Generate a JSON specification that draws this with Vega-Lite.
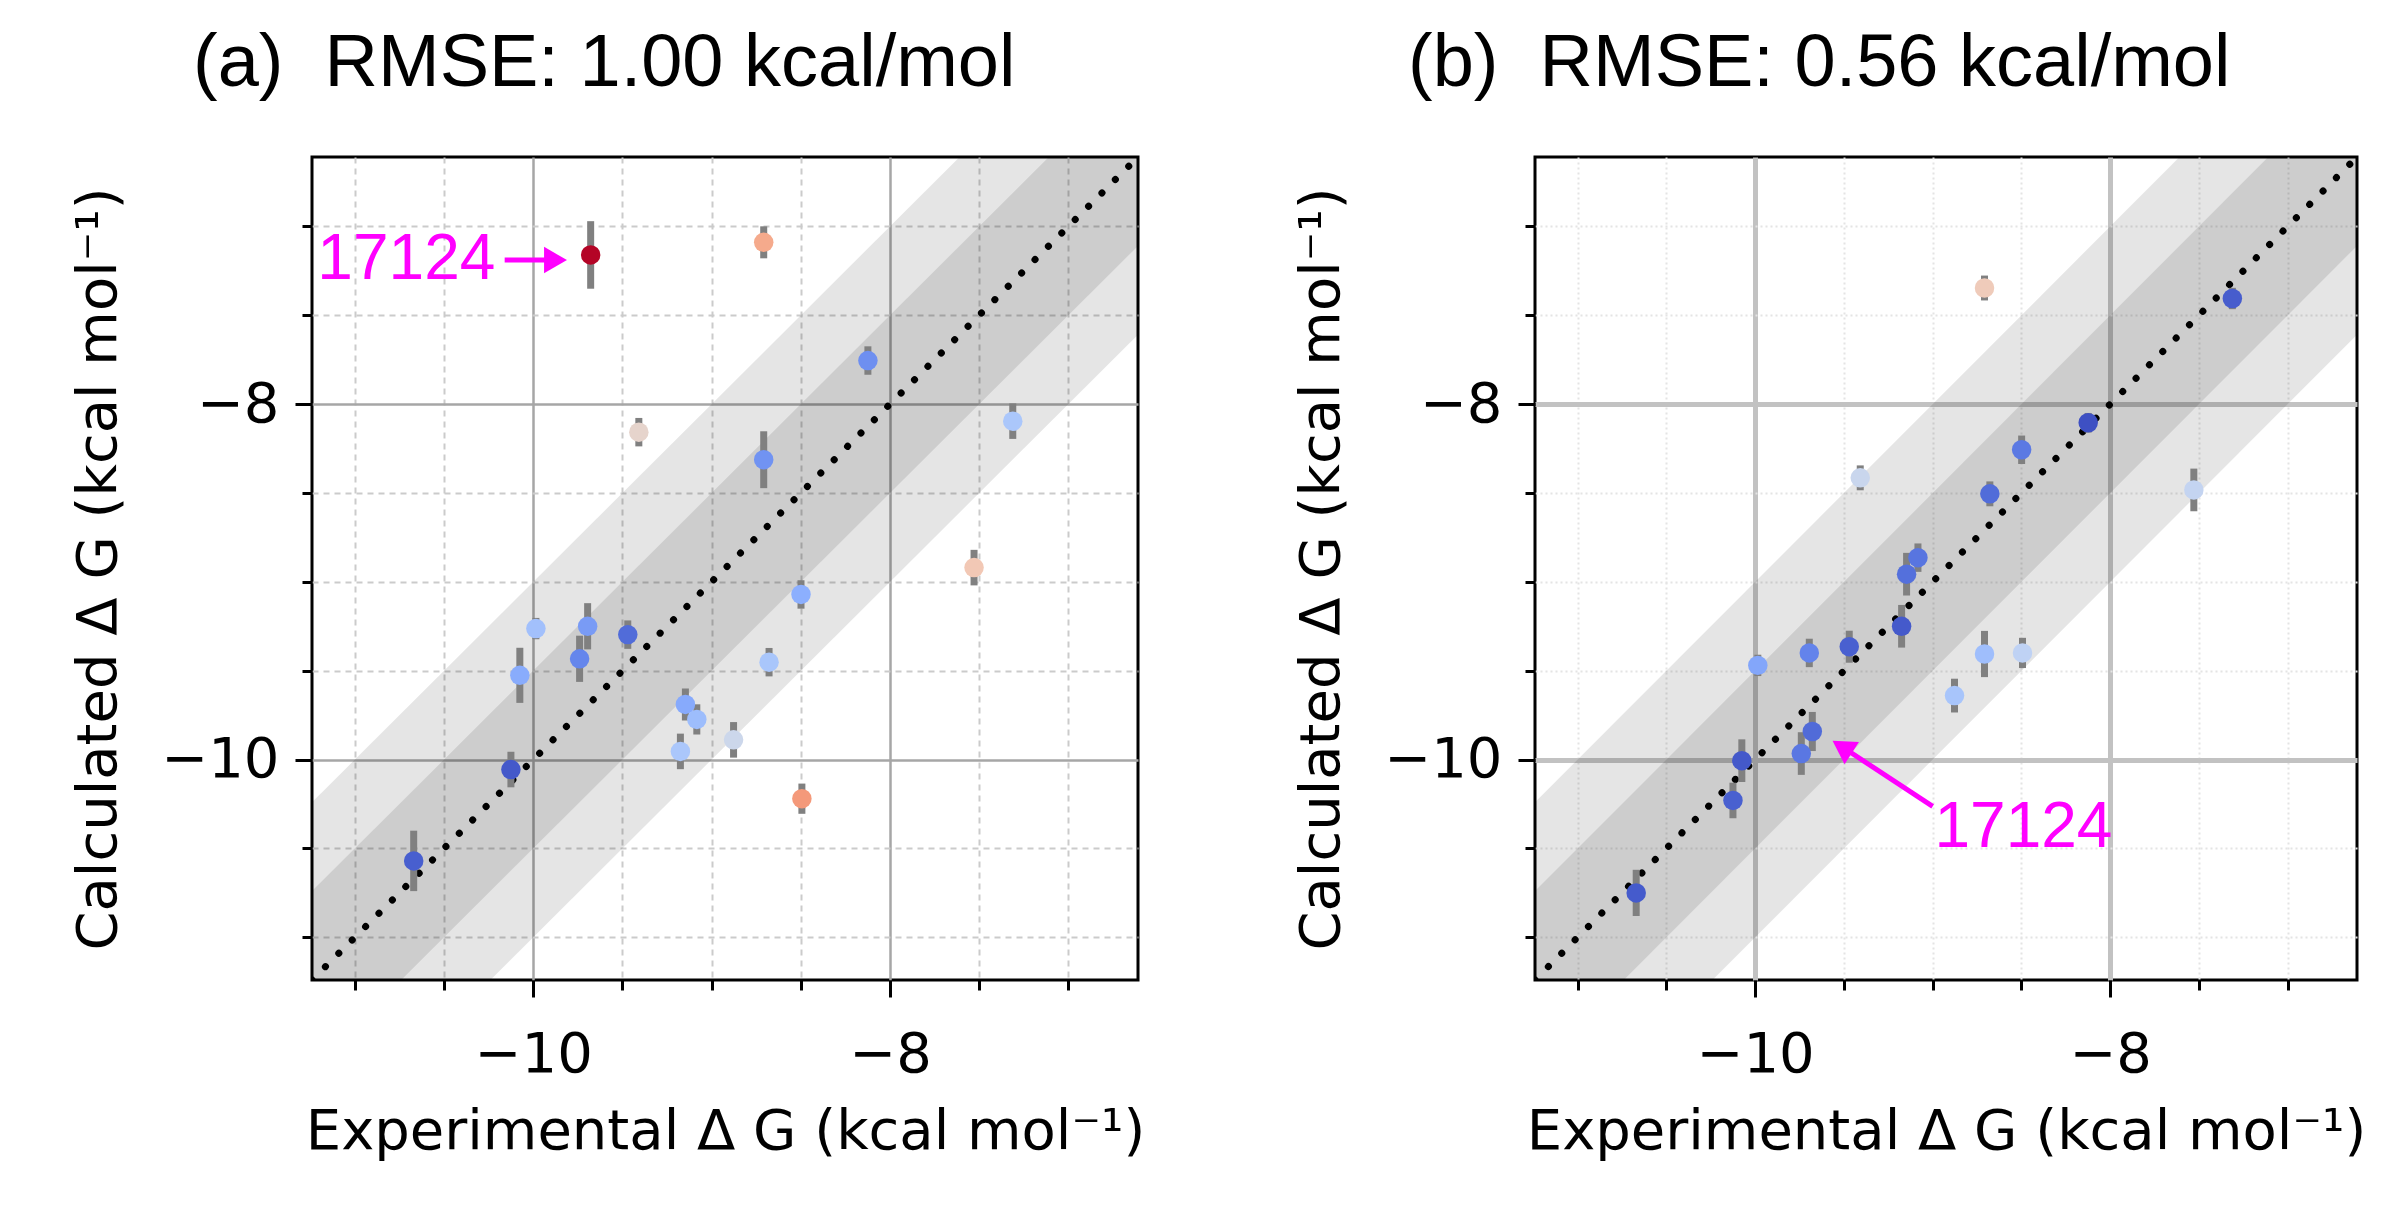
{
  "$schema": "https://vega.github.io/schema/vega-lite/v6.json",
  "description": "Calculated vs experimental binding free energies, two FEP setups",
  "background": "white",
  "padding": {"left": 69, "top": 25, "right": 10, "bottom": 10},
  "spacing": 145,
  "datasets": {
    "pts": [
      {"exp": -10.67, "calcA": -10.57, "sdA": 0.17, "devA": 0.1, "calcB": -10.75, "sdB": 0.13, "devB": 0.08},
      {"exp": -10.125, "calcA": -10.056, "sdA": 0.1, "devA": 0.07, "calcB": -10.23, "sdB": 0.1, "devB": 0.105},
      {"exp": -10.075, "calcA": -9.526, "sdA": 0.155, "devA": 0.55, "calcB": -10.006, "sdB": 0.12, "devB": 0.07},
      {"exp": -9.985, "calcA": -9.263, "sdA": 0.06, "devA": 0.72, "calcB": -9.47, "sdB": 0.06, "devB": 0.515},
      {"exp": -9.74, "calcA": -9.433, "sdA": 0.13, "devA": 0.31, "calcB": -9.966, "sdB": 0.12, "devB": 0.23},
      {"exp": -9.695, "calcA": -9.25, "sdA": 0.13, "devA": 0.445, "calcB": -9.4, "sdB": 0.08, "devB": 0.295},
      {"exp": -9.678, "calcA": -7.161, "sdA": 0.19, "devA": 2.52, "calcB": -9.842, "sdB": 0.11, "devB": 0.164},
      {"exp": -9.47, "calcA": -9.297, "sdA": 0.08, "devA": 0.17, "calcB": -9.365, "sdB": 0.09, "devB": 0.105},
      {"exp": -9.408, "calcA": -8.158, "sdA": 0.08, "devA": 1.25, "calcB": -8.415, "sdB": 0.07, "devB": 0.99},
      {"exp": -9.175, "calcA": -9.954, "sdA": 0.1, "devA": 0.78, "calcB": -9.25, "sdB": 0.12, "devB": 0.075},
      {"exp": -9.147, "calcA": -9.69, "sdA": 0.09, "devA": 0.54, "calcB": -8.957, "sdB": 0.12, "devB": 0.19},
      {"exp": -9.083, "calcA": -9.774, "sdA": 0.085, "devA": 0.69, "calcB": -8.864, "sdB": 0.08, "devB": 0.22},
      {"exp": -8.877, "calcA": -9.889, "sdA": 0.1, "devA": 1.01, "calcB": -9.64, "sdB": 0.095, "devB": 0.76},
      {"exp": -8.708, "calcA": -7.09, "sdA": 0.09, "devA": 1.62, "calcB": -7.347, "sdB": 0.07, "devB": 1.36},
      {"exp": -8.708, "calcA": -8.313, "sdA": 0.16, "devA": 0.395, "calcB": -9.406, "sdB": 0.13, "devB": 0.7},
      {"exp": -8.678, "calcA": -9.452, "sdA": 0.08, "devA": 0.77, "calcB": -8.505, "sdB": 0.07, "devB": 0.17},
      {"exp": -8.499, "calcA": -9.071, "sdA": 0.08, "devA": 0.57, "calcB": -8.257, "sdB": 0.08, "devB": 0.24},
      {"exp": -8.494, "calcA": -10.22, "sdA": 0.085, "devA": 1.73, "calcB": -9.4, "sdB": 0.085, "devB": 0.91},
      {"exp": -8.124, "calcA": -7.755, "sdA": 0.08, "devA": 0.37, "calcB": -8.105, "sdB": 0.055, "devB": 0.02},
      {"exp": -7.529, "calcA": -8.92, "sdA": 0.1, "devA": 1.39, "calcB": -8.483, "sdB": 0.12, "devB": 0.95},
      {"exp": -7.312, "calcA": -8.096, "sdA": 0.1, "devA": 0.78, "calcB": -7.406, "sdB": 0.06, "devB": 0.09}
    ],
    "diag": [
      {"x": -11.24, "y": -11.24, "lo1": -12.24, "hi1": -10.24, "lo05": -11.74, "hi05": -10.74},
      {"x": -6.61, "y": -6.61, "lo1": -7.61, "hi1": -5.61, "lo05": -7.11, "hi05": -6.11}
    ]
  },
  "config": {
    "view": {"stroke": "black", "strokeWidth": 3, "fill": "white"},
    "axis": {
      "domain": false,
      "labelFont": "DejaVu Sans",
      "labelFontSize": 56,
      "labelColor": "black",
      "labelOverlap": false,
      "labelFlush": false,
      "titleFont": "DejaVu Sans",
      "titleFontSize": 56,
      "titleFontWeight": "normal",
      "titleColor": "black",
      "tickColor": "black",
      "tickWidth": 3
    },
    "axisX": {"labelPadding": 30, "titlePadding": 22},
    "axisY": {"labelPadding": 16, "titlePadding": 33},
    "title": {"font": "Liberation Sans", "fontSize": 74, "fontWeight": "normal", "color": "black", "anchor": "start", "frame": "group", "baseline": "alphabetic"}
  },
  "hconcat": [
    {
      "title": {"text": "(a)\u00a0 RMSE: 1.00 kcal/mol", "dx": -119, "offset": 55},
      "width": 826,
      "height": 823,
      "layer": [
        {
          "data": {"name": "diag"},
          "mark": {"type": "area", "color": "black", "opacity": 0.1, "clip": true},
          "encoding": {
            "x": {"field": "x", "type": "quantitative", "title": "Experimental Δ G (kcal mol⁻¹)", "scale": {"domain": [-11.24, -6.61], "nice": false, "zero": false},
              "axis": {
                "values": [-11, -10.5, -10, -9.5, -9, -8.5, -8, -7.5, -7],
                "labelExpr": "datum.value == -10 ? '−10' : datum.value == -8 ? '−8' : ''",
                "tickSize": {"condition": {"test": "datum.value == -10 || datum.value == -8", "value": 17}, "value": 10},
                "gridColor": {"condition": {"test": "datum.value == -10 || datum.value == -8", "value": "#a6a6a6"}, "value": "#cbcbcb"},
                "gridDash": {"condition": {"test": "datum.value == -10 || datum.value == -8", "value": []}, "value": [6, 5]},
                "gridWidth": {"condition": {"test": "datum.value == -10 || datum.value == -8", "value": 2.5}, "value": 2}
              }},
            "y": {"field": "lo1", "type": "quantitative", "title": "Calculated Δ G (kcal mol⁻¹)", "scale": {"domain": [-11.24, -6.61], "nice": false, "zero": false},
              "axis": {
                "values": [-11, -10.5, -10, -9.5, -9, -8.5, -8, -7.5, -7],
                "labelExpr": "datum.value == -10 ? '−10' : datum.value == -8 ? '−8' : ''",
                "tickSize": {"condition": {"test": "datum.value == -10 || datum.value == -8", "value": 17}, "value": 10},
                "gridColor": {"condition": {"test": "datum.value == -10 || datum.value == -8", "value": "#a6a6a6"}, "value": "#cbcbcb"},
                "gridDash": {"condition": {"test": "datum.value == -10 || datum.value == -8", "value": []}, "value": [6, 5]},
                "gridWidth": {"condition": {"test": "datum.value == -10 || datum.value == -8", "value": 2.5}, "value": 2}
              }},
            "y2": {"field": "hi1"}
          }
        },
        {
          "data": {"name": "diag"},
          "mark": {"type": "area", "color": "black", "opacity": 0.1, "clip": true},
          "encoding": {
            "x": {"field": "x", "type": "quantitative", "title": "Experimental Δ G (kcal mol⁻¹)", "scale": {"domain": [-11.24, -6.61], "nice": false, "zero": false}},
            "y": {"field": "lo05", "type": "quantitative", "title": "Calculated Δ G (kcal mol⁻¹)", "scale": {"domain": [-11.24, -6.61], "nice": false, "zero": false}},
            "y2": {"field": "hi05"}
          }
        },
        {
          "data": {"name": "diag"},
          "mark": {"type": "line", "color": "black", "strokeWidth": 7, "strokeDash": [0.1, 18.8], "strokeCap": "round", "clip": true},
          "encoding": {
            "x": {"field": "x", "type": "quantitative", "title": "Experimental Δ G (kcal mol⁻¹)", "scale": {"domain": [-11.24, -6.61], "nice": false, "zero": false}},
            "y": {"field": "y", "type": "quantitative", "title": "Calculated Δ G (kcal mol⁻¹)", "scale": {"domain": [-11.24, -6.61], "nice": false, "zero": false}}
          }
        },
        {
          "data": {"name": "pts"},
          "mark": {"type": "errorbar", "ticks": false, "thickness": 7, "color": "#808080"},
          "encoding": {
            "x": {"field": "exp", "type": "quantitative", "title": "Experimental Δ G (kcal mol⁻¹)", "scale": {"domain": [-11.24, -6.61], "nice": false, "zero": false}},
            "y": {"field": "calcA", "type": "quantitative", "title": "Calculated Δ G (kcal mol⁻¹)", "scale": {"domain": [-11.24, -6.61], "nice": false, "zero": false}},
            "yError": {"field": "sdA"}
          }
        },
        {
          "data": {"name": "pts"},
          "mark": {"type": "circle", "size": 380, "opacity": 1},
          "encoding": {
            "x": {"field": "exp", "type": "quantitative", "title": "Experimental Δ G (kcal mol⁻¹)", "scale": {"domain": [-11.24, -6.61], "nice": false, "zero": false}},
            "y": {"field": "calcA", "type": "quantitative", "title": "Calculated Δ G (kcal mol⁻¹)", "scale": {"domain": [-11.24, -6.61], "nice": false, "zero": false}},
            "color": {"field": "devA", "type": "quantitative", "legend": null,
              "scale": {"domain": [0, 0.2875, 0.575, 0.8625, 1.15, 1.4375, 1.725, 2.0125, 2.3], "range": ["#3b4cc0", "#6282ea", "#8db0fe", "#b8d0f9", "#dddddd", "#f5c4ad", "#f49a7b", "#de604d", "#b40426"], "clamp": true}}
          }
        },
        {
          "data": {"values": [{"x0": -10.16, "y0": -7.19, "x1": -9.88, "y1": -7.19}]},
          "mark": {"type": "rule", "color": "#ff00ff", "strokeWidth": 5},
          "encoding": {
            "x": {"field": "x0", "type": "quantitative", "title": "Experimental Δ G (kcal mol⁻¹)", "scale": {"domain": [-11.24, -6.61], "nice": false, "zero": false}},
            "y": {"field": "y0", "type": "quantitative", "title": "Calculated Δ G (kcal mol⁻¹)", "scale": {"domain": [-11.24, -6.61], "nice": false, "zero": false}},
            "x2": {"field": "x1"},
            "y2": {"field": "y1"}
          }
        },
        {
          "data": {"values": [{"x": -9.875, "y": -7.19}]},
          "mark": {"type": "point", "shape": "triangle-right", "filled": true, "size": 700, "color": "#ff00ff", "opacity": 1},
          "encoding": {
            "x": {"field": "x", "type": "quantitative", "title": "Experimental Δ G (kcal mol⁻¹)", "scale": {"domain": [-11.24, -6.61], "nice": false, "zero": false}},
            "y": {"field": "y", "type": "quantitative", "title": "Calculated Δ G (kcal mol⁻¹)", "scale": {"domain": [-11.24, -6.61], "nice": false, "zero": false}}
          }
        },
        {
          "data": {"values": [{"x": -11.21, "y": -7.19, "label": "17124"}]},
          "mark": {"type": "text", "align": "left", "baseline": "middle", "font": "Liberation Sans", "fontSize": 64, "color": "#ff00ff"},
          "encoding": {
            "x": {"field": "x", "type": "quantitative", "title": "Experimental Δ G (kcal mol⁻¹)", "scale": {"domain": [-11.24, -6.61], "nice": false, "zero": false}},
            "y": {"field": "y", "type": "quantitative", "title": "Calculated Δ G (kcal mol⁻¹)", "scale": {"domain": [-11.24, -6.61], "nice": false, "zero": false}},
            "text": {"field": "label"}
          }
        }
      ]
    },
    {
      "title": {"text": "(b)\u00a0 RMSE: 0.56 kcal/mol", "dx": -127, "offset": 55},
      "width": 822,
      "height": 823,
      "layer": [
        {
          "data": {"name": "diag"},
          "mark": {"type": "area", "color": "black", "opacity": 0.1, "clip": true},
          "encoding": {
            "x": {"field": "x", "type": "quantitative", "title": "Experimental Δ G (kcal mol⁻¹)", "scale": {"domain": [-11.24, -6.61], "nice": false, "zero": false},
              "axis": {
                "values": [-11, -10.5, -10, -9.5, -9, -8.5, -8, -7.5, -7],
                "labelExpr": "datum.value == -10 ? '−10' : datum.value == -8 ? '−8' : ''",
                "tickSize": {"condition": {"test": "datum.value == -10 || datum.value == -8", "value": 17}, "value": 10},
                "gridColor": {"condition": {"test": "datum.value == -10 || datum.value == -8", "value": "#c2c2c2"}, "value": "#e4e4e4"},
                "gridDash": {"condition": {"test": "datum.value == -10 || datum.value == -8", "value": []}, "value": [2, 3]},
                "gridWidth": {"condition": {"test": "datum.value == -10 || datum.value == -8", "value": 5}, "value": 2}
              }},
            "y": {"field": "lo1", "type": "quantitative", "title": "Calculated Δ G (kcal mol⁻¹)", "scale": {"domain": [-11.24, -6.61], "nice": false, "zero": false},
              "axis": {
                "values": [-11, -10.5, -10, -9.5, -9, -8.5, -8, -7.5, -7],
                "labelExpr": "datum.value == -10 ? '−10' : datum.value == -8 ? '−8' : ''",
                "tickSize": {"condition": {"test": "datum.value == -10 || datum.value == -8", "value": 17}, "value": 10},
                "gridColor": {"condition": {"test": "datum.value == -10 || datum.value == -8", "value": "#c2c2c2"}, "value": "#e4e4e4"},
                "gridDash": {"condition": {"test": "datum.value == -10 || datum.value == -8", "value": []}, "value": [2, 3]},
                "gridWidth": {"condition": {"test": "datum.value == -10 || datum.value == -8", "value": 5}, "value": 2}
              }},
            "y2": {"field": "hi1"}
          }
        },
        {
          "data": {"name": "diag"},
          "mark": {"type": "area", "color": "black", "opacity": 0.1, "clip": true},
          "encoding": {
            "x": {"field": "x", "type": "quantitative", "title": "Experimental Δ G (kcal mol⁻¹)", "scale": {"domain": [-11.24, -6.61], "nice": false, "zero": false}},
            "y": {"field": "lo05", "type": "quantitative", "title": "Calculated Δ G (kcal mol⁻¹)", "scale": {"domain": [-11.24, -6.61], "nice": false, "zero": false}},
            "y2": {"field": "hi05"}
          }
        },
        {
          "data": {"name": "diag"},
          "mark": {"type": "line", "color": "black", "strokeWidth": 7, "strokeDash": [0.1, 18.8], "strokeCap": "round", "clip": true},
          "encoding": {
            "x": {"field": "x", "type": "quantitative", "title": "Experimental Δ G (kcal mol⁻¹)", "scale": {"domain": [-11.24, -6.61], "nice": false, "zero": false}},
            "y": {"field": "y", "type": "quantitative", "title": "Calculated Δ G (kcal mol⁻¹)", "scale": {"domain": [-11.24, -6.61], "nice": false, "zero": false}}
          }
        },
        {
          "data": {"name": "pts"},
          "mark": {"type": "errorbar", "ticks": false, "thickness": 7, "color": "#808080"},
          "encoding": {
            "x": {"field": "exp", "type": "quantitative", "title": "Experimental Δ G (kcal mol⁻¹)", "scale": {"domain": [-11.24, -6.61], "nice": false, "zero": false}},
            "y": {"field": "calcB", "type": "quantitative", "title": "Calculated Δ G (kcal mol⁻¹)", "scale": {"domain": [-11.24, -6.61], "nice": false, "zero": false}},
            "yError": {"field": "sdB"}
          }
        },
        {
          "data": {"name": "pts"},
          "mark": {"type": "circle", "size": 380, "opacity": 1},
          "encoding": {
            "x": {"field": "exp", "type": "quantitative", "title": "Experimental Δ G (kcal mol⁻¹)", "scale": {"domain": [-11.24, -6.61], "nice": false, "zero": false}},
            "y": {"field": "calcB", "type": "quantitative", "title": "Calculated Δ G (kcal mol⁻¹)", "scale": {"domain": [-11.24, -6.61], "nice": false, "zero": false}},
            "color": {"field": "devB", "type": "quantitative", "legend": null,
              "scale": {"domain": [0, 0.2875, 0.575, 0.8625, 1.15, 1.4375, 1.725, 2.0125, 2.3], "range": ["#3b4cc0", "#6282ea", "#8db0fe", "#b8d0f9", "#dddddd", "#f5c4ad", "#f49a7b", "#de604d", "#b40426"], "clamp": true}}
          }
        },
        {
          "data": {"values": [{"x0": -9.0, "y0": -10.263, "x1": -9.5, "y1": -9.935}]},
          "mark": {"type": "rule", "color": "#ff00ff", "strokeWidth": 5},
          "encoding": {
            "x": {"field": "x0", "type": "quantitative", "title": "Experimental Δ G (kcal mol⁻¹)", "scale": {"domain": [-11.24, -6.61], "nice": false, "zero": false}},
            "y": {"field": "y0", "type": "quantitative", "title": "Calculated Δ G (kcal mol⁻¹)", "scale": {"domain": [-11.24, -6.61], "nice": false, "zero": false}},
            "x2": {"field": "x1"},
            "y2": {"field": "y1"}
          }
        },
        {
          "data": {"values": [{"x": -9.51, "y": -9.929}]},
          "mark": {"type": "point", "shape": "triangle-up", "angle": 303, "filled": true, "size": 700, "color": "#ff00ff", "opacity": 1},
          "encoding": {
            "x": {"field": "x", "type": "quantitative", "title": "Experimental Δ G (kcal mol⁻¹)", "scale": {"domain": [-11.24, -6.61], "nice": false, "zero": false}},
            "y": {"field": "y", "type": "quantitative", "title": "Calculated Δ G (kcal mol⁻¹)", "scale": {"domain": [-11.24, -6.61], "nice": false, "zero": false}}
          }
        },
        {
          "data": {"values": [{"x": -8.99, "y": -10.387, "label": "17124"}]},
          "mark": {"type": "text", "align": "left", "baseline": "middle", "font": "Liberation Sans", "fontSize": 64, "color": "#ff00ff"},
          "encoding": {
            "x": {"field": "x", "type": "quantitative", "title": "Experimental Δ G (kcal mol⁻¹)", "scale": {"domain": [-11.24, -6.61], "nice": false, "zero": false}},
            "y": {"field": "y", "type": "quantitative", "title": "Calculated Δ G (kcal mol⁻¹)", "scale": {"domain": [-11.24, -6.61], "nice": false, "zero": false}},
            "text": {"field": "label"}
          }
        }
      ]
    }
  ]
}
